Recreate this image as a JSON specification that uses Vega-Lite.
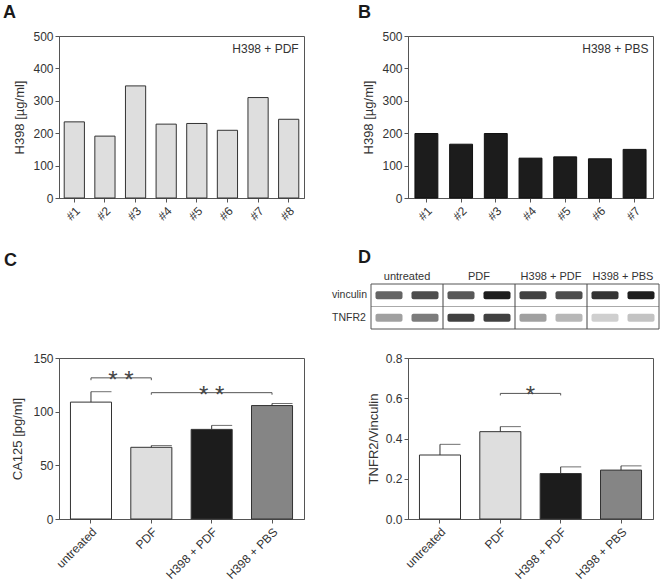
{
  "$schema": "https://vega.github.io/schema/vega-lite/v6.json",
  "padding": {"left": 2, "top": 3, "right": 0, "bottom": 0},
  "bounds": "flush",
  "spacing": 322,
  "datasets": {
    "A": [
      {"sample": "#1", "value": 235}, {"sample": "#2", "value": 191}, {"sample": "#3", "value": 346}, {"sample": "#4", "value": 228},
      {"sample": "#5", "value": 230}, {"sample": "#6", "value": 209}, {"sample": "#7", "value": 310}, {"sample": "#8", "value": 243}
    ],
    "B": [
      {"sample": "#1", "value": 199}, {"sample": "#2", "value": 166}, {"sample": "#3", "value": 199}, {"sample": "#4", "value": 123},
      {"sample": "#5", "value": 127}, {"sample": "#6", "value": 121}, {"sample": "#7", "value": 150}
    ],
    "C": [
      {"group": "untreated", "mean": 108.9, "upper": 118.6},
      {"group": "PDF", "mean": 66.8, "upper": 68.4},
      {"group": "H398 + PDF", "mean": 83.5, "upper": 87.2},
      {"group": "H398 + PBS", "mean": 105.7, "upper": 107.6}
    ],
    "Cbr": [
      {"from": "untreated", "to": "PDF", "y": 131.5, "ylo": 129.3},
      {"from": "PDF", "to": "H398 + PBS", "y": 117.7, "ylo": 115.8}
    ],
    "D": [
      {"group": "untreated", "mean": 0.318, "upper": 0.371},
      {"group": "PDF", "mean": 0.434, "upper": 0.459},
      {"group": "H398 + PDF", "mean": 0.226, "upper": 0.259},
      {"group": "H398 + PBS", "mean": 0.243, "upper": 0.264}
    ],
    "Dbr": [
      {"from": "PDF", "to": "H398 + PDF", "y": 0.624, "ylo": 0.614}
    ],
    "blot": [
      {"protein": "vinculin", "row": 1, "group": "untreated", "lane": 1, "intensity": 0.65},
      {"protein": "vinculin", "row": 1, "group": "untreated", "lane": 2, "intensity": 0.75},
      {"protein": "vinculin", "row": 1, "group": "PDF", "lane": 3, "intensity": 0.7},
      {"protein": "vinculin", "row": 1, "group": "PDF", "lane": 4, "intensity": 0.95},
      {"protein": "vinculin", "row": 1, "group": "H398 + PDF", "lane": 5, "intensity": 0.8},
      {"protein": "vinculin", "row": 1, "group": "H398 + PDF", "lane": 6, "intensity": 0.75},
      {"protein": "vinculin", "row": 1, "group": "H398 + PBS", "lane": 7, "intensity": 0.85},
      {"protein": "vinculin", "row": 1, "group": "H398 + PBS", "lane": 8, "intensity": 0.95},
      {"protein": "TNFR2", "row": 2, "group": "untreated", "lane": 1, "intensity": 0.4},
      {"protein": "TNFR2", "row": 2, "group": "untreated", "lane": 2, "intensity": 0.55},
      {"protein": "TNFR2", "row": 2, "group": "PDF", "lane": 3, "intensity": 0.8},
      {"protein": "TNFR2", "row": 2, "group": "PDF", "lane": 4, "intensity": 0.8},
      {"protein": "TNFR2", "row": 2, "group": "H398 + PDF", "lane": 5, "intensity": 0.4},
      {"protein": "TNFR2", "row": 2, "group": "H398 + PDF", "lane": 6, "intensity": 0.3},
      {"protein": "TNFR2", "row": 2, "group": "H398 + PBS", "lane": 7, "intensity": 0.2},
      {"protein": "TNFR2", "row": 2, "group": "H398 + PBS", "lane": 8, "intensity": 0.25}
    ]
  },
  "vconcat": [
    {
      "bounds": "flush",
      "spacing": 104,
      "hconcat": [
        {
          "width": 245, "height": 162,
          "title": {"text": "A", "dx": -56, "offset": 8},
          "layer": [
            {
              "data": {"name": "A"},
              "mark": {"type": "bar", "fill": "#dedede", "stroke": "#333", "strokeWidth": 1},
              "encoding": {
                "x": {"field": "sample", "type": "nominal", "sort": null, "scale": {"paddingInner": 0.34, "paddingOuter": 0.17}, "axis": {"title": null}},
                "y": {"field": "value", "type": "quantitative", "scale": {"domain": [0, 500], "nice": false}, "axis": {"title": "H398 [µg/ml]", "values": [0, 100, 200, 300, 400, 500]}}
              }
            },
            {
              "data": {"values": [{"label": "H398 + PDF", "yv": 461}]},
              "mark": {"type": "text", "align": "right", "baseline": "middle", "dx": 10, "fontSize": 12, "color": "#333"},
              "encoding": {
                "x": {"datum": "#8"},
                "y": {"field": "yv", "type": "quantitative", "axis": {"title": "H398 [µg/ml]", "values": [0, 100, 200, 300, 400, 500]}},
                "text": {"field": "label"}
              }
            }
          ]
        },
        {
          "width": 245, "height": 162,
          "title": {"text": "B", "dx": -50, "offset": 8},
          "layer": [
            {
              "data": {"name": "B"},
              "mark": {"type": "bar", "fill": "#1c1c1c", "stroke": "#111", "strokeWidth": 1},
              "encoding": {
                "x": {"field": "sample", "type": "nominal", "sort": null, "scale": {"paddingInner": 0.34, "paddingOuter": 0.2}, "axis": {"title": null}},
                "y": {"field": "value", "type": "quantitative", "scale": {"domain": [0, 500], "nice": false}, "axis": {"title": "H398 [µg/ml]", "values": [0, 100, 200, 300, 400, 500]}}
              }
            },
            {
              "data": {"values": [{"label": "H398 + PBS", "yv": 461}]},
              "mark": {"type": "text", "align": "right", "baseline": "middle", "dx": 14, "fontSize": 12, "color": "#333"},
              "encoding": {
                "x": {"datum": "#7"},
                "y": {"field": "yv", "type": "quantitative", "axis": {"title": "H398 [µg/ml]", "values": [0, 100, 200, 300, 400, 500]}},
                "text": {"field": "label"}
              }
            }
          ]
        }
      ]
    },
    {
      "bounds": "flush",
      "spacing": 104,
      "hconcat": [
        {
          "width": 245, "height": 161,
          "title": {"text": "C", "dx": -55, "offset": 82},
          "layer": [
            {
              "data": {"name": "C"},
              "mark": {"type": "bar", "stroke": "#333", "strokeWidth": 1},
              "encoding": {
                "x": {"field": "group", "type": "nominal", "sort": null, "scale": {"domain": ["untreated", "PDF", "H398 + PDF", "H398 + PBS"], "paddingInner": 0.32, "paddingOuter": 0.19}, "axis": {"title": null}},
                "y": {"field": "mean", "type": "quantitative", "scale": {"domain": [0, 150], "nice": false}, "axis": {"title": "CA125 [pg/ml]", "values": [0, 50, 100, 150], "titlePadding": 8}},
                "fill": {"field": "group", "type": "nominal", "scale": {"domain": ["untreated", "PDF", "H398 + PDF", "H398 + PBS"], "range": ["#ffffff", "#dedede", "#1c1c1c", "#858585"]}, "legend": null}
              }
            },
            {
              "data": {"name": "C"},
              "mark": {"type": "rule", "color": "#333", "strokeWidth": 1},
              "encoding": {"x": {"field": "group", "type": "nominal"}, "y": {"field": "mean", "type": "quantitative"}, "y2": {"field": "upper"}}
            },
            {
              "data": {"name": "C"},
              "mark": {"type": "tick", "orient": "horizontal", "color": "#333", "size": 20.5, "thickness": 1, "xOffset": 10.25},
              "encoding": {"x": {"field": "group", "type": "nominal"}, "y": {"field": "upper", "type": "quantitative"}}
            },
            {
              "data": {"name": "Cbr"},
              "mark": {"type": "rule", "color": "#555", "strokeWidth": 1},
              "encoding": {"x": {"field": "from", "type": "nominal"}, "x2": {"field": "to"}, "y": {"field": "y", "type": "quantitative"}}
            },
            {
              "data": {"name": "Cbr"},
              "transform": [{"fold": ["from", "to"], "as": ["end", "at"]}],
              "mark": {"type": "rule", "color": "#555", "strokeWidth": 1},
              "encoding": {"x": {"field": "at", "type": "nominal"}, "y": {"field": "y", "type": "quantitative"}, "y2": {"field": "ylo"}}
            },
            {
              "data": {"values": [{"at": "untreated", "y": 131.5, "t": "* *"}]},
              "mark": {"type": "text", "fontSize": 24, "dx": 30, "dy": 10, "baseline": "alphabetic", "color": "#444"},
              "encoding": {"x": {"field": "at", "type": "nominal"}, "y": {"field": "y", "type": "quantitative"}, "text": {"field": "t"}}
            },
            {
              "data": {"values": [{"at": "H398 + PDF", "y": 117.7, "t": "* *"}]},
              "mark": {"type": "text", "fontSize": 24, "dx": 0, "dy": 10, "baseline": "alphabetic", "color": "#444"},
              "encoding": {"x": {"field": "at", "type": "nominal"}, "y": {"field": "y", "type": "quantitative"}, "text": {"field": "t"}}
            }
          ]
        },
        {
          "width": 245, "height": 161,
          "title": {"text": "D", "dx": -50, "offset": 4},
          "resolve": {"scale": {"x": "independent", "y": "independent"}, "axis": {"x": "independent", "y": "independent"}},
          "layer": [
            {
              "layer": [
                {
                  "data": {"name": "D"},
                  "mark": {"type": "bar", "stroke": "#333", "strokeWidth": 1},
                  "encoding": {
                    "x": {"field": "group", "type": "nominal", "sort": null, "scale": {"domain": ["untreated", "PDF", "H398 + PDF", "H398 + PBS"], "paddingInner": 0.32, "paddingOuter": 0.19}, "axis": {"title": null}},
                    "y": {"field": "mean", "type": "quantitative", "scale": {"domain": [0, 0.8], "nice": false}, "axis": {"title": "TNFR2/Vinculin", "values": [0, 0.2, 0.4, 0.6, 0.8], "format": ".1f", "titlePadding": 5}},
                    "fill": {"field": "group", "type": "nominal", "scale": {"domain": ["untreated", "PDF", "H398 + PDF", "H398 + PBS"], "range": ["#ffffff", "#dedede", "#1c1c1c", "#858585"]}, "legend": null}
                  }
                },
                {
                  "data": {"name": "D"},
                  "mark": {"type": "rule", "color": "#333", "strokeWidth": 1},
                  "encoding": {"x": {"field": "group", "type": "nominal"}, "y": {"field": "mean", "type": "quantitative"}, "y2": {"field": "upper"}}
                },
                {
                  "data": {"name": "D"},
                  "mark": {"type": "tick", "orient": "horizontal", "color": "#333", "size": 20.5, "thickness": 1, "xOffset": 10.25},
                  "encoding": {"x": {"field": "group", "type": "nominal"}, "y": {"field": "upper", "type": "quantitative"}}
                },
                {
                  "data": {"name": "Dbr"},
                  "mark": {"type": "rule", "color": "#555", "strokeWidth": 1},
                  "encoding": {"x": {"field": "from", "type": "nominal"}, "x2": {"field": "to"}, "y": {"field": "y", "type": "quantitative"}}
                },
                {
                  "data": {"name": "Dbr"},
                  "transform": [{"fold": ["from", "to"], "as": ["end", "at"]}],
                  "mark": {"type": "rule", "color": "#555", "strokeWidth": 1},
                  "encoding": {"x": {"field": "at", "type": "nominal"}, "y": {"field": "y", "type": "quantitative"}, "y2": {"field": "ylo"}}
                },
                {
                  "data": {"values": [{"at": "PDF", "y": 0.624, "t": "*"}]},
                  "mark": {"type": "text", "fontSize": 24, "dx": 30, "dy": 10, "baseline": "alphabetic", "color": "#444"},
                  "encoding": {"x": {"field": "at", "type": "nominal"}, "y": {"field": "y", "type": "quantitative"}, "text": {"field": "t"}}
                }
              ]
            },
            {
              "layer": [
                {
                  "data": {"name": "blot"},
                  "mark": {"type": "tick", "orient": "horizontal", "color": "#111", "size": 27, "thickness": 8, "cornerRadius": 2},
                  "encoding": {
                    "x": {"field": "lane", "type": "quantitative", "scale": {"domain": [0.5, 8.5], "range": [-37, 251], "nice": false, "zero": false}, "axis": null},
                    "y": {"field": "row", "type": "quantitative", "scale": {"domain": [0.5, 2.5], "range": [-74, -29], "nice": false, "zero": false}, "axis": null},
                    "opacity": {"field": "intensity", "type": "quantitative", "scale": {"domain": [0, 1], "range": [0, 1]}, "legend": null}
                  }
                },
                {
                  "data": {"values": [{}]},
                  "mark": {"type": "rule", "color": "#aaa", "strokeWidth": 1},
                  "encoding": {"x": {"datum": 0.5}, "x2": {"datum": 8.5}, "y": {"datum": 1.5}}
                },
                {
                  "data": {"values": [{"b": 2.5}, {"b": 4.5}, {"b": 6.5}]},
                  "mark": {"type": "rule", "color": "#444", "strokeWidth": 1},
                  "encoding": {"x": {"field": "b", "type": "quantitative"}, "y": {"datum": 0.5}, "y2": {"datum": 2.5}}
                },
                {
                  "data": {"values": [{}]},
                  "mark": {"type": "rect", "fillOpacity": 0, "stroke": "#555", "strokeWidth": 1},
                  "encoding": {"x": {"datum": 0.5}, "x2": {"datum": 8.5}, "y": {"datum": 0.5}, "y2": {"datum": 2.5}}
                },
                {
                  "data": {"name": "blot"},
                  "mark": {"type": "text", "baseline": "bottom", "dy": -2, "fontSize": 11, "color": "#333"},
                  "encoding": {"x": {"aggregate": "mean", "field": "lane", "type": "quantitative"}, "y": {"datum": 0.5}, "text": {"field": "group", "type": "nominal"}}
                },
                {
                  "data": {"name": "blot"},
                  "mark": {"type": "text", "align": "left", "baseline": "middle", "dx": -39, "fontSize": 10.5, "color": "#333"},
                  "encoding": {"x": {"datum": 0.5}, "y": {"aggregate": "mean", "field": "row", "type": "quantitative"}, "text": {"field": "protein", "type": "nominal"}}
                }
              ]
            }
          ]
        }
      ]
    }
  ],
  "config": {
    "font": "Liberation Sans",
    "view": {"stroke": "#555", "strokeWidth": 1},
    "title": {"fontSize": 18, "fontWeight": "bold", "anchor": "start", "frame": "group", "color": "#1a1a1a"},
    "axis": {"domainColor": "#555", "tickColor": "#555", "labelColor": "#333", "titleColor": "#333", "labelFontSize": 12, "titleFontSize": 13, "titleFontWeight": "normal", "grid": false, "tickSize": 4, "labelPadding": 2, "labelOverlap": false},
    "axisY": {"titlePadding": 6},
    "axisX": {"labelAngle": -45, "labelPadding": 3}
  }
}
